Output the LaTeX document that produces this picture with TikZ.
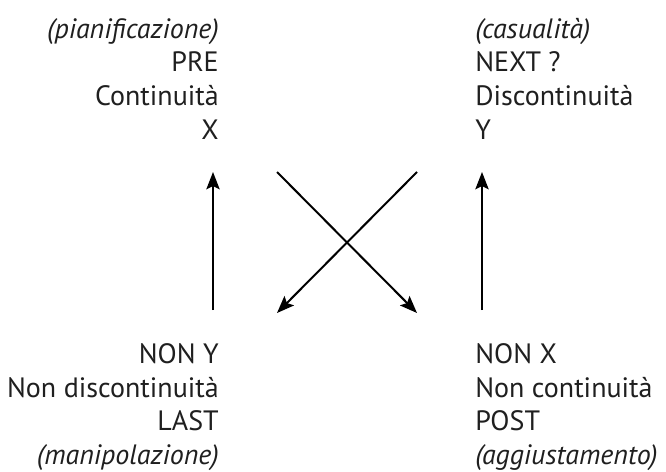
\documentclass[tikz,border=0pt]{standalone}
\usepackage{fontspec}
\setmainfont{PT Sans}
\usetikzlibrary{arrows.meta}
\begin{document}
\begin{tikzpicture}[x=0.75pt,y=-0.75pt,
  lbl/.style={inner sep=0pt,font=\fontsize{21}{25}\selectfont,text=black!88},
  rlbl/.style={lbl,anchor=base east},
  llbl/.style={lbl,anchor=base west},
  arr/.style={line width=1.5pt,-{Stealth[length=13pt,width=10pt,inset=2.5pt]}}]
\useasboundingbox (0,0) rectangle (666,471);
% top left
\node[rlbl] (tl1) at (219,38) {\itshape (pianificazione)};
\node[rlbl] (tl2) at (219,71.7) {PRE};
\node[rlbl] (tl3) at (219,105.4) {Continuità};
\node[rlbl] (tl4) at (219,139) {X};
% top right
\node[llbl] (tr1) at (475,38) {\itshape (casualità)};
\node[llbl] (tr2) at (475,71.7) {NEXT ?};
\node[llbl] (tr3) at (475,105.4) {Discontinuità};
\node[llbl] (tr4) at (475,139) {Y};
% bottom left
\node[rlbl] (bl1) at (219,363.3) {NON Y};
\node[rlbl] (bl2) at (219,397) {Non discontinuità};
\node[rlbl] (bl3) at (219,430.7) {LAST};
\node[rlbl] (bl4) at (219,464.4) {\itshape (manipolazione)};
% bottom right
\node[llbl] (br1) at (475,363.3) {NON X};
\node[llbl] (br2) at (475,397) {Non continuità};
\node[llbl] (br3) at (475,430.7) {POST};
\node[llbl] (br4) at (475,464.4) {\itshape (aggiustamento)};
% arrow end points
\coordinate (la0) at (213,310);
\coordinate (la1) at (213,172);
\coordinate (ra0) at (482,310);
\coordinate (ra1) at (482,172);
\coordinate (d1s) at (277,172);
\coordinate (d1e) at (417,313);
\coordinate (d2s) at (417,172);
\coordinate (d2e) at (277,313);
\draw[arr] (la0) -- (la1);
\draw[arr] (ra0) -- (ra1);
\draw[arr] (d1s) -- (d1e);
\draw[arr] (d2s) -- (d2e);
\end{tikzpicture}
\end{document}
